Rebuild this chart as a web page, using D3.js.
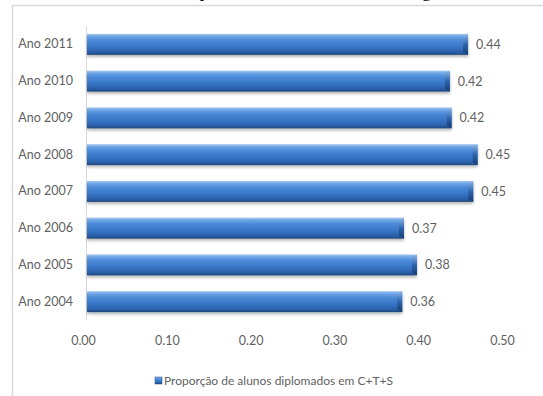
<!DOCTYPE html>
<html>
<head>
<meta charset="utf-8">
<script src="https://cdn.jsdelivr.net/npm/d3@7"></script>
<style>
  body { margin: 0; background: #fff; }
  svg { display: block; }
  .lbl { font-family: Lato, "Open Sans", sans-serif; font-size: 12.5px; fill: #5f5f5f; }
</style>
</head>
<body>
<svg id="chart" width="543" height="396"></svg>
<script>
// data
var years = ["Ano 2011", "Ano 2010", "Ano 2009", "Ano 2008", "Ano 2007", "Ano 2006", "Ano 2005", "Ano 2004"];
var values = [0.440, 0.419, 0.421, 0.451, 0.446, 0.366, 0.381, 0.364];
var valueLabels = ["0.44", "0.42", "0.42", "0.45", "0.45", "0.37", "0.38", "0.36"];
var tickValues = [0, 0.1, 0.2, 0.3, 0.4, 0.5];
var legendText = "Proporção de alunos diplomados em C+T+S";

const svg = d3.select("#chart");
const margin = { top: 26, left: 87, bottom: 320 };

var data = years.map((d, i) => ({ year: d, value: values[i], label: valueLabels[i] }));

// bars and the tick labels sit a bit apart because of the 3D look in the original
var x = d3.scaleLinear().domain([0, 0.5]).range([margin.left, 520]);
var xTicks = d3.scaleLinear().domain([0, 0.5]).range([83, 502]);
var y = d3.scaleBand().domain(years).range([margin.top, margin.bottom]).paddingInner(0.43).paddingOuter(0.215);

var defs = svg.append("defs");
var grad = defs.append("linearGradient").attr("id", "barGrad")
    .attr("x1", 0).attr("y1", 0).attr("x2", 0).attr("y2", 1);
grad.append("stop").attr("offset", "0%").attr("stop-color", "#a9c9ef");
grad.append("stop").attr("offset", "12%").attr("stop-color", "#6ea5e6");
grad.append("stop").attr("offset", "30%").attr("stop-color", "#4c8bd8");
grad.append("stop").attr("offset", "65%").attr("stop-color", "#3573c4");
grad.append("stop").attr("offset", "88%").attr("stop-color", "#2a5ea8");
grad.append("stop").attr("offset", "100%").attr("stop-color", "#1e4478");

var capGrad = defs.append("linearGradient").attr("id", "capGrad")
    .attr("x1", 0).attr("y1", 0).attr("x2", 0).attr("y2", 1);
capGrad.append("stop").attr("offset", "0%").attr("stop-color", "#8fb6e6");
capGrad.append("stop").attr("offset", "50%").attr("stop-color", "#2d65b0");
capGrad.append("stop").attr("offset", "100%").attr("stop-color", "#173a6c");

var shadow = defs.append("filter").attr("id", "shadow")
    .attr("x", "-5%").attr("y", "-20%").attr("width", "110%").attr("height", "160%");
shadow.append("feDropShadow").attr("dx", 0).attr("dy", 2).attr("stdDeviation", 1.5)
    .attr("flood-color", "#000").attr("flood-opacity", 0.3);

// frame of the chart area
svg.append("line").attr("x1", 12).attr("x2", 543).attr("y1", 5.5).attr("y2", 5.5)
    .attr("stroke", "#d9d9d9").attr("stroke-width", 1.5);
svg.append("line").attr("x1", 12.5).attr("x2", 12.5).attr("y1", 5).attr("y2", 396)
    .attr("stroke", "#d9d9d9").attr("stroke-width", 1.5);

// caption above the chart, cut off by the top edge as in the original
svg.append("text")
    .attr("x", 272).attr("y", -3)
    .attr("text-anchor", "middle")
    .style("font-family", "Liberation Serif, serif")
    .style("font-size", "18px")
    .attr("fill", "#000")
    .text("Gráfico 5 – Taxa de diplomados em Ciência, Tecnologia e Saúde");

// vertical axis line
svg.append("line").attr("x1", margin.left - 0.5).attr("x2", margin.left - 0.5)
    .attr("y1", margin.top).attr("y2", margin.bottom)
    .attr("stroke", "#d9d9d9");

// bars
var bars = svg.append("g").selectAll("g")
    .data(data)
    .enter()
    .append("g")
    .attr("filter", "url(#shadow)");

bars.append("rect")
    .attr("x", x(0))
    .attr("y", d => y(d.year))
    .attr("width", d => x(d.value) - x(0))
    .attr("height", y.bandwidth())
    .attr("fill", "url(#barGrad)");

// beveled end cap
bars.append("path")
    .attr("d", d => {
        var x1 = x(d.value), y0 = y(d.year), h = y.bandwidth();
        return `M${x1 - 5},${y0 + 3} L${x1},${y0} L${x1},${y0 + h} L${x1 - 5},${y0 + h - 3} Z`;
    })
    .attr("fill", "url(#capGrad)");

// value labels
svg.append("g").selectAll("text")
    .data(data)
    .enter()
    .append("text")
    .attr("class", "lbl")
    .attr("x", d => x(d.value) + 8)
    .attr("y", d => y(d.year) + y.bandwidth() / 2)
    .attr("dy", "0.35em")
    .text(d => d.label);

// category axis
var yAxis = svg.append("g")
    .attr("transform", `translate(73,0)`)
    .call(d3.axisLeft(y).tickSize(0).tickPadding(0));
yAxis.select(".domain").remove();
yAxis.selectAll("text").attr("class", "lbl").attr("fill", null).style("font-size", null).style("font-family", null);

// value axis (labels only)
var xAxis = svg.append("g")
    .attr("transform", `translate(0,333)`)
    .call(d3.axisBottom(xTicks).tickValues(tickValues).tickFormat(d3.format(".2f")).tickSize(0));
xAxis.select(".domain").remove();
xAxis.selectAll("text").attr("class", "lbl").attr("fill", null).style("font-size", null).style("font-family", null);

// legend
var legend = svg.append("g").attr("transform", "translate(155,381)");
legend.append("rect").attr("x", 0).attr("y", -4).attr("width", 7).attr("height", 7)
    .attr("fill", "url(#barGrad)").attr("stroke", "#1e4478").attr("stroke-width", 0.5);
legend.append("text").attr("class", "lbl")
    .attr("x", 9).attr("y", 0).attr("dy", "0.35em")
    .style("font-size", "12px")
    .text(legendText);
</script>
</body>
</html>
